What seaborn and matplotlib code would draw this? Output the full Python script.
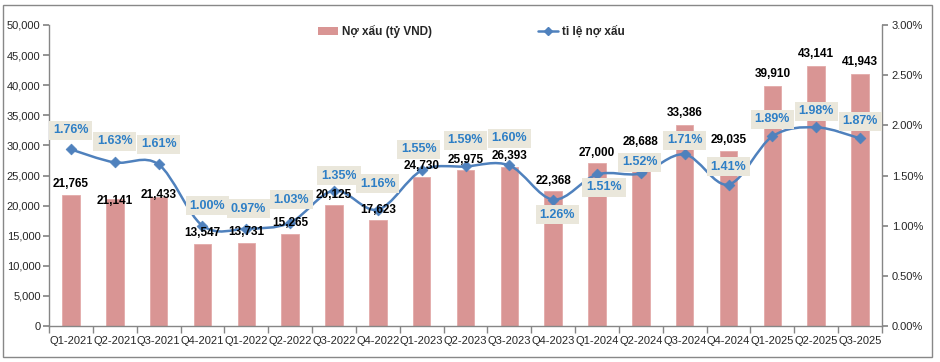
import numpy as np
import pandas as pd
import matplotlib
matplotlib.use('Agg')
import matplotlib.pyplot as plt
from matplotlib.path import Path
from matplotlib.patches import PathPatch, Rectangle, Patch
from matplotlib.lines import Line2D
from matplotlib.ticker import FuncFormatter, MultipleLocator, FixedLocator
import seaborn as sns

# ── Data ───────────────────────────────────────────────────────────────
quarters = ['Q1-2021', 'Q2-2021', 'Q3-2021', 'Q4-2021', 'Q1-2022', 'Q2-2022',
            'Q3-2022', 'Q4-2022', 'Q1-2023', 'Q2-2023', 'Q3-2023', 'Q4-2023',
            'Q1-2024', 'Q2-2024', 'Q3-2024', 'Q4-2024', 'Q1-2025', 'Q2-2025',
            'Q3-2025']
bad_debt = [21765, 21141, 21433, 13547, 13731, 15265, 20125, 17623, 24730,
            25975, 26393, 22368, 27000, 28688, 33386, 29035, 39910, 43141,
            41943]
npl_ratio = [1.76, 1.63, 1.61, 1.00, 0.97, 1.03, 1.35, 1.16, 1.55, 1.59,
             1.60, 1.26, 1.51, 1.52, 1.71, 1.41, 1.89, 1.98, 1.87]

bar_name = 'Nợ xấu (tỷ VND)'
line_name = 'tỉ lệ nợ xấu'

df = pd.DataFrame({'quarter': quarters, 'bad_debt': bad_debt, 'npl': npl_ratio})

# label nudges in pixels (x right, y down) – mimic the Excel placement
pct_dx = [0, 0, 0, 5, 2, 1, 5, 0, -3, 0, 0, 4, 7, -1, 0, 0, 0, 0, 0]
pct_dy = [-19, -21, -20, -20, -20, -23, -15, -26, -21, -26, -27, 15, 13,
          -11, -14, -18, -17, -16, -17]
bar_dy = [-11, 2, -2, -11, -11, -11, -10, -10, -11, -10, -11, -10, -10,
          -11, -12, -11, -12, -12, -12]

BAR_C = '#D99594'
LINE_C = '#4F81BD'
PCT_C = '#2E7FC6'
BOX_C = '#EAE7DB'
AXIS_C = '#868686'

sns.set_theme(style='white')
plt.rcParams['font.family'] = ['Liberation Sans', 'DejaVu Sans']

fig = plt.figure(figsize=(9.4, 3.62), dpi=100)
ax = fig.add_axes([49/940, 36/362, 833/940, 301/362])
ax2 = ax.twinx()

# ── Bars ──
sns.barplot(data=df, x='quarter', y='bad_debt', color=BAR_C, saturation=1,
            width=0.4, ax=ax, edgecolor='#E3AAA9', linewidth=0.6)
ax.set_xlim(-0.5, len(quarters) - 0.5)
ax.set_ylim(0, 50000)
ax.yaxis.set_major_locator(MultipleLocator(5000))
ax.yaxis.set_major_formatter(FuncFormatter(lambda v, p: f'{v:,.0f}'))
ax.set_xlabel('')
ax.set_ylabel('')

# ── Smoothed ratio line (Bezier through the points) ──
xs = np.arange(len(npl_ratio), dtype=float)
ys = np.array(npl_ratio)
verts = [(xs[0], ys[0])]
codes = [Path.MOVETO]
n = len(xs)
for i in range(n - 1):
    p0 = np.array([xs[max(i - 1, 0)], ys[max(i - 1, 0)]])
    p1 = np.array([xs[i], ys[i]])
    p2 = np.array([xs[i + 1], ys[i + 1]])
    p3 = np.array([xs[min(i + 2, n - 1)], ys[min(i + 2, n - 1)]])
    c1 = p1 + (p2 - p0) / 6
    c2 = p2 - (p3 - p1) / 6
    verts += [tuple(c1), tuple(c2), tuple(p2)]
    codes += [Path.CURVE4] * 3
ax2.add_patch(PathPatch(Path(verts, codes), facecolor='none',
                        edgecolor=LINE_C, lw=1.8, zorder=3))
sns.scatterplot(x=xs, y=ys, marker='D', s=30, color=LINE_C, edgecolor=LINE_C,
                linewidth=0.5, ax=ax2, zorder=4, legend=False)
ax2.set_ylim(0, 3)
ax2.yaxis.set_major_locator(MultipleLocator(0.5))
ax2.yaxis.set_major_formatter(FuncFormatter(lambda v, p: f'{v:.2f}%'))

# ── Labels (all on ax2 so they sit above the line) ──
for i, (v, r) in enumerate(zip(bad_debt, npl_ratio)):
    ax2.annotate(f'{v:,}', (i, v), xycoords=ax.transData,
                 xytext=(0, -bar_dy[i] * 0.72),
                 textcoords='offset points', ha='center', va='center',
                 fontsize=8.5, fontweight='bold', color='black', zorder=5)
    ax2.annotate(f'{r:.2f}%', (i, r),
                 xytext=(pct_dx[i] * 0.72, -pct_dy[i] * 0.72),
                 textcoords='offset points', ha='center', va='center',
                 fontsize=9, fontweight='bold', color=PCT_C, zorder=6,
                 bbox=dict(boxstyle='square,pad=0.3', facecolor=BOX_C,
                           edgecolor='none'))

# ── Axes styling ──
for a in (ax, ax2):
    a.grid(False)
    a.spines['top'].set_visible(False)
    for s in ('left', 'right', 'bottom'):
        a.spines[s].set_color(AXIS_C)
        a.spines[s].set_linewidth(1)
ax.spines['right'].set_visible(False)
ax2.spines['left'].set_visible(False)
ax2.spines['bottom'].set_visible(False)

ax.tick_params(axis='y', which='major', direction='out', length=4,
               color=AXIS_C, labelsize=8, pad=2, left=True)
ax2.tick_params(axis='y', which='major', direction='out', length=4,
                color=AXIS_C, labelsize=8, pad=3, right=True)
ax.tick_params(axis='x', which='major', length=0, labelsize=8, pad=7)
ax.xaxis.set_minor_locator(FixedLocator(np.arange(-0.5, len(quarters), 1.0)))
ax.tick_params(axis='x', which='minor', direction='out', length=5,
               color=AXIS_C, bottom=True)

# ── Legend ──
handles = [Patch(facecolor=BAR_C, edgecolor='none'),
           Line2D([0], [0], color=LINE_C, lw=1.8, marker='D', markersize=4)]
leg = ax2.legend(handles, [bar_name, line_name], loc='upper center',
                 bbox_to_anchor=(0.507, 1.035), ncol=2, frameon=False,
                 columnspacing=9, handlelength=1.7, handletextpad=0.3,
                 prop={'size': 8.5, 'weight': 'bold'})

# ── Outer frame ──
fig.patches.append(Rectangle((3/940, 5/362), 929/940, 352/362,
                             transform=fig.transFigure, fill=False,
                             edgecolor='#888888', lw=1))

fig.savefig('out.png', dpi=100)
